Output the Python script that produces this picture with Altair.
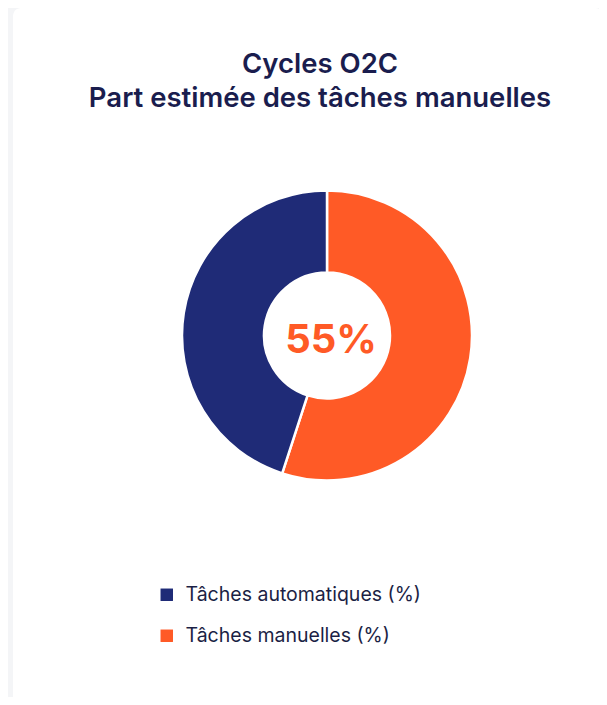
import altair as alt
import pandas as pd

# ---- data ----
categories = ["Tâches manuelles (%)", "Tâches automatiques (%)"]
values = [55, 45]
slice_order = [0, 1]
legend_order = ["Tâches automatiques (%)", "Tâches manuelles (%)"]
colors = ["#1f2b77", "#ff5a26"]
center_label = ["55%"]
title_lines = ["Cycles O2C", "Part estimée des tâches manuelles"]

FONT = "Inter"
W, H = 591, 689
CX, CY = 319, 327.5

arc_df = pd.DataFrame({"category": categories, "value": values, "order": slice_order})
center_df = pd.DataFrame({"label": center_label})
title_df = pd.DataFrame({"line": title_lines, "idx": [0, 1]})

card = alt.Chart(pd.DataFrame({"a": [0]})).mark_rect(
    color="white", cornerRadius=8
).encode(x=alt.value(5), x2=alt.value(W + 4), y=alt.value(0), y2=alt.value(H + 20))

arc = alt.Chart(arc_df).mark_arc(
    radius=145, innerRadius=63, stroke="white", strokeWidth=2.5
).encode(
    theta=alt.Theta("value:Q", stack=True),
    order=alt.Order("order:Q"),
    color=alt.Color(
        "category:N",
        scale=alt.Scale(domain=legend_order, range=colors),
        legend=alt.Legend(
            title=None,
            orient="none",
            legendX=149,
            legendY=577,
            symbolType="square",
            symbolSize=155,
            symbolStrokeWidth=0,
            labelFont=FONT,
            labelFontSize=19.5,
            labelColor="#1b1f45",
            labelOffset=9,
            labelLimit=0,
            rowPadding=20,
            padding=0,
        ),
    ),
    x=alt.value(CX),
    y=alt.value(CY),
)

center = alt.Chart(center_df).mark_text(
    font=FONT, fontSize=40, fontWeight="bold", color="#ff5a26",
    align="center", baseline="alphabetic"
).encode(text="label:N", x=alt.value(CX + 4), y=alt.value(345))

title = alt.Chart(title_df).mark_text(
    font=FONT, fontSize=27.5, fontWeight=600, color="#1a1d4e",
    align="center", baseline="alphabetic"
).encode(
    text="line:N",
    x=alt.value(312),
    y=alt.Y("idx:Q", scale=alt.Scale(domain=[0, 1], range=[65, 99]), axis=None),
)

chart = alt.layer(card, arc, center, title).properties(
    width=W, height=H, padding=0, autosize=alt.AutoSizeParams(type="none"),
    background="#f4f5f7",
).configure_view(stroke=None)

chart.save("out.html", embed_options={"renderer": "svg", "actions": False})
